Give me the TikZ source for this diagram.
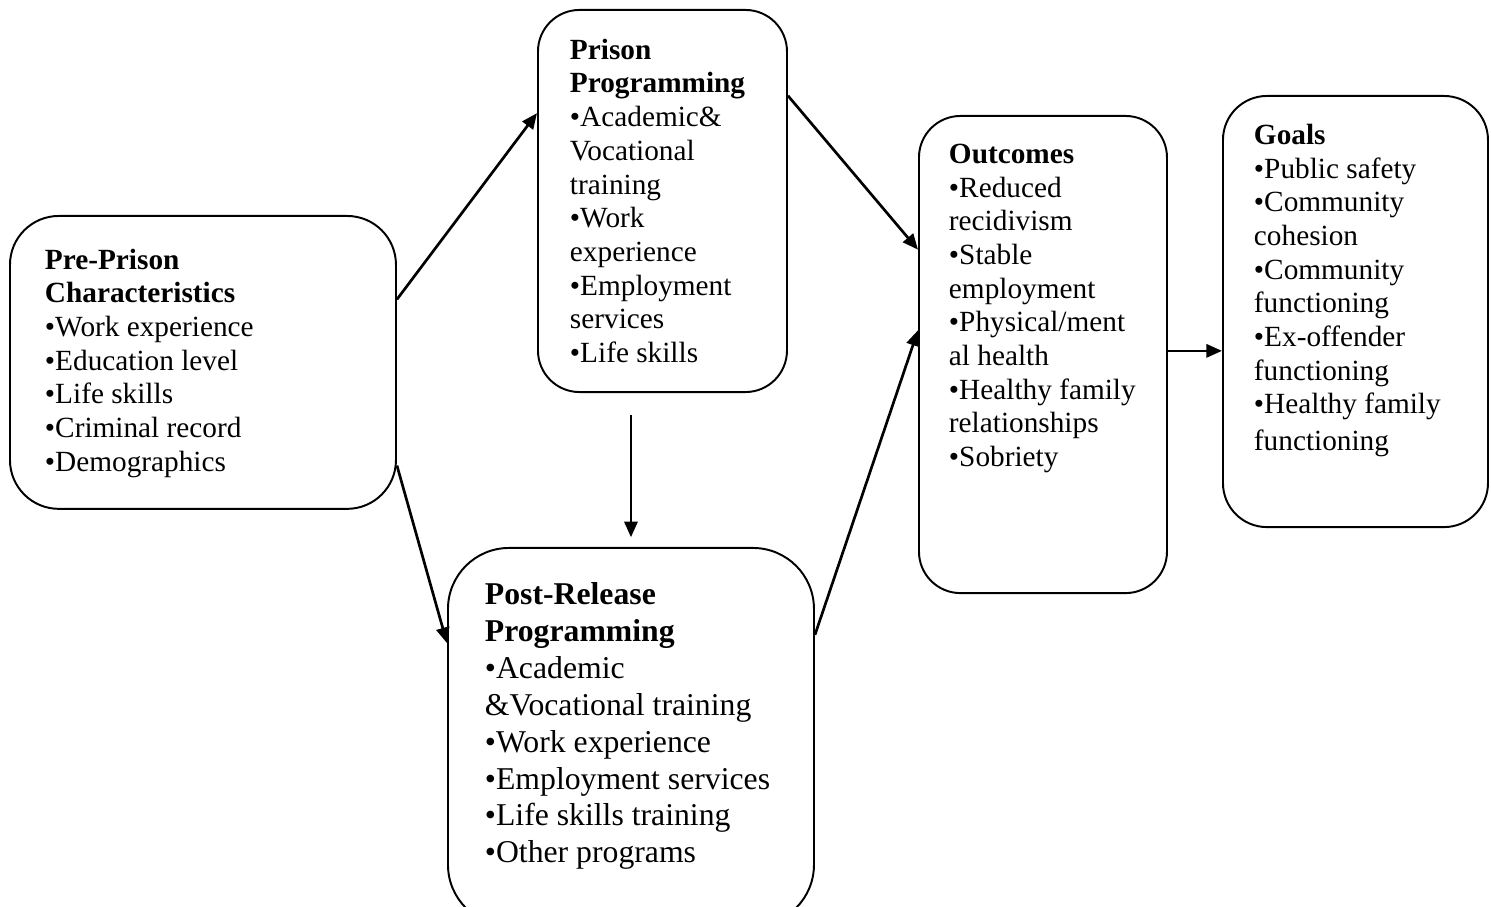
\documentclass[tikz,border=0pt]{standalone}
\usepackage{fontspec}
\setmainfont{Liberation Serif}
\usetikzlibrary{arrows.meta,calc}
\newlength\pxu
\setlength\pxu{0.4098pt}
\newcommand\boxtext[4]{\hspace*{#1\pxu}\parbox[t][#3\pxu][t]{#2\pxu}{\raggedright #4}}

\begin{document}
\begin{tikzpicture}
  [x=0.4098pt,y=-0.4098pt,line width=0.8pt,
   blockN/.style={draw,rounded corners=#1,inner xsep=0pt,anchor=north west,
                  font=\fontsize{12}{13.8}\selectfont},
   arr/.style={-{Triangle[length=6.4pt,width=5.4pt]},line width=1.1pt},
  ]
 \useasboundingbox (0,0) rectangle (1491,907);

 \node[blockN=20pt,inner ysep=13.5pt] (pre) at (9,215)
   {\boxtext{35}{351}{227}{\textbf{Pre-Prison}\\ \textbf{Characteristics}\\
    •Work experience\\ •Education level\\ •Life skills\\ •Criminal record\\
    •Demographics}};
 \node[blockN=17pt,inner ysep=11.9pt] (prison) at (537,9)
   {\boxtext{32}{217}{324}{\textbf{Prison}\\ \textbf{Programming}\\
    •Academic\&\\ Vocational\\ training\\ •Work\\ experience\\ •Employment\\
    services\\ •Life skills}};
 \node[blockN=25pt,inner ysep=14.3pt,font=\fontsize{13}{15.1}\selectfont] (post) at (447,547)
   {\boxtext{37}{329}{308}{\textbf{Post-Release}\\ \textbf{Programming}\\
    •Academic\\ \&Vocational training\\ •Work experience\\ •Employment services\\
    •Life skills training\\ •Other programs}};
 \node[blockN=17pt,inner ysep=11.5pt] (outcomes) at (918,115)
   {\boxtext{30}{218}{421}{\textbf{Outcomes}\\ •Reduced\\ recidivism\\ •Stable\\
    employment\\ •Physical/ment\\ al health\\ •Healthy family\\ relationships\\
    •Sobriety}};
 \node[blockN=18pt,inner ysep=11.5pt] (goals) at (1222,95)
   {\boxtext{31}{234}{375}{\textbf{Goals}\\ •Public safety\\ •Community\\ cohesion\\
    •Community\\ functioning\\ •Ex-offender\\ functioning\\ •Healthy family\\[1.4pt]functioning}};

 % arrows
 \draw[arr] (pre.18.5) -- (prison.145.7);
 \draw[arr] (pre.-28.2) -- (post.153.6);
 \draw[arr,shorten <=9pt,shorten >=4pt] (prison.south -| post.north) -- (post.north);
 \draw[arr] (prison.40.1) -- (outcomes.140.7);
 \draw[arr] (post.29.6) -- (outcomes.169.3);
 \draw[arr] ([yshift=1.5pt]outcomes.east) -- ([yshift=1.5pt]outcomes.east -| goals.west);

\end{tikzpicture}
\end{document}
